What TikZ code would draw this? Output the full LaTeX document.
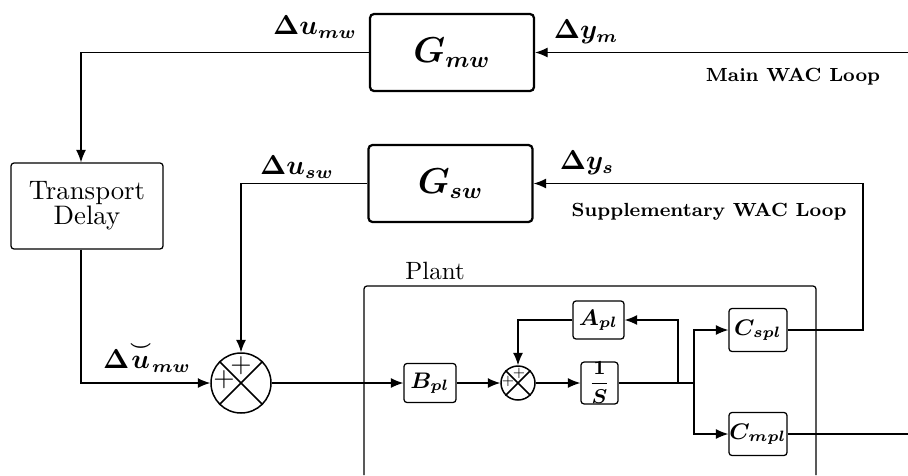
\documentclass[tikz,border=0pt]{standalone}
\usepackage{amsmath}
\usetikzlibrary{arrows.meta,calc}
\begin{document}
\begin{tikzpicture}[x=0.4pt,y=-0.4pt,
  line width=0.5pt,
  arr/.style={-{Latex[length=5pt,width=4pt]}},
  bigbox/.style={draw, line width=0.9pt, rounded corners=1.6pt, minimum width=65.6pt, minimum height=30.8pt, inner sep=0pt, font=\fontsize{13.5}{15}\selectfont\boldmath},
  tdbox/.style={draw, rounded corners=1.2pt, minimum width=60.8pt, minimum height=34.4pt, inner sep=0pt, align=center, font=\fontsize{10.7}{12}\selectfont},
  smallbox/.style={draw, rounded corners=1.2pt, inner sep=0pt, font=\fontsize{9}{10}\selectfont\boldmath},
  sumc/.style={draw, circle, inner sep=0pt, line width=0.6pt},
  lbl/.style={font=\fontsize{10.6}{12}\selectfont\boldmath, inner sep=0pt},
  looplbl/.style={font=\fontsize{7.6}{9}\selectfont\bfseries, inner sep=0pt}
]
\useasboundingbox (0,0) rectangle (908,475);

% blocks
\node[bigbox] (Gmw) at (452,52.5) {$G_{mw}$};
\node[bigbox] (Gsw) at (450.5,183.5) {$G_{sw}$};
\node[tdbox] (TD) at (87,206) {Transport\\[-2pt]Delay};
\node[sumc, minimum size=24pt] (S) at (241,383) {};
\node[smallbox, minimum width=20.8pt, minimum height=15.6pt] (Bpl) at (430,383) {$B_{pl}$};
\node[sumc, minimum size=13.6pt] (IS) at (518,383) {};
\node[smallbox, minimum width=20.4pt, minimum height=15.2pt] (Apl) at (598.5,320) {$A_{pl}$};
\node[smallbox, minimum width=14.8pt, minimum height=15.2pt] (Inv) at (599.5,383) {\fontsize{7.6}{8}\selectfont$\displaystyle\frac{1}{S}$};
\node[smallbox, minimum width=23.2pt, minimum height=17.2pt] (Cspl) at (758,330) {$C_{spl}$};
\node[smallbox, minimum width=23.2pt, minimum height=17.2pt] (Cmpl) at (758,434) {$C_{mpl}$};

% summing junction details
\draw[line width=0.6pt] (S.north east) -- (S.south west) (S.north west) -- (S.south east);
\draw[line width=0.6pt] (IS.north east) -- (IS.south west) (IS.north west) -- (IS.south east);
\node[inner sep=0pt, font=\fontsize{10.5}{11}\selectfont] (Sp1) at ($(S.center)+(0,-17)$) {$+$};
\node[inner sep=0pt, font=\fontsize{10.5}{11}\selectfont] (Sp2) at ($(S.center)+(-17,-3)$) {$+$};
\node[inner sep=0pt, font=\fontsize{5.5}{6}\selectfont] (ISp1) at ($(IS.center)+(1,-10)$) {$+$};
\node[inner sep=0pt, font=\fontsize{5.5}{6}\selectfont] (ISp2) at ($(IS.center)+(-10,-2)$) {$+$};

% plant frame
\draw[rounded corners=1.2pt] (364,475) -- (364,286) -- (816,286) -- (816,475);
\node[inner sep=0pt, font=\fontsize{10}{11}\selectfont] (plant) at (435,271) {Plant};

% coordinates
\coordinate (yin) at (908,52.5);
\coordinate (yout) at (908,434);
\coordinate (j1) at (678,383);
\coordinate (j2) at (694,383);
\coordinate (c1) at (863,250);

% connectors
\draw[arr] (yin) -- (Gmw.east);
\draw[arr] (Gmw.west) -| ($(TD.north)+(-6,0)$);
\draw[arr] ($(TD.south)+(-6,0)$) |- (S.west);
\draw[arr] (Gsw.west) -| (S.north);
\draw[arr] (S.east) -- (Bpl.west);
\draw[arr] (Bpl.east) -- (IS.west);
\draw[arr] (IS.east) -- (Inv.west);
\draw (Inv.east) -- (j2);
\draw[arr] (j1) |- (Apl.east);
\draw[arr] (Apl.west) -| (IS.north);
\draw[arr] (j2) |- (Cspl.west);
\draw[arr] (j2) |- (Cmpl.west);
\draw[arr] (Cspl.east) -| (c1) |- (Gsw.east);
\draw (Cmpl.east) -- (yout);

% labels
\node[lbl] (lumw) at (315,27) {$\Delta u_{mw}$};
\node[lbl] (lym) at (586,32) {$\Delta y_{m}$};
\node[looplbl] (lmain) at (793,77) {Main WAC Loop};
\node[lbl] (lusw) at (297,167) {$\Delta u_{sw}$};
\node[lbl] (lys) at (587,163) {$\Delta y_{s}$};
\node[looplbl] (lsup) at (709,212) {Supplementary WAC Loop};
\node[lbl] (lubr) at (147,357) {$\Delta \overset{\smile}{u}_{mw}$};
\end{tikzpicture}
\end{document}
